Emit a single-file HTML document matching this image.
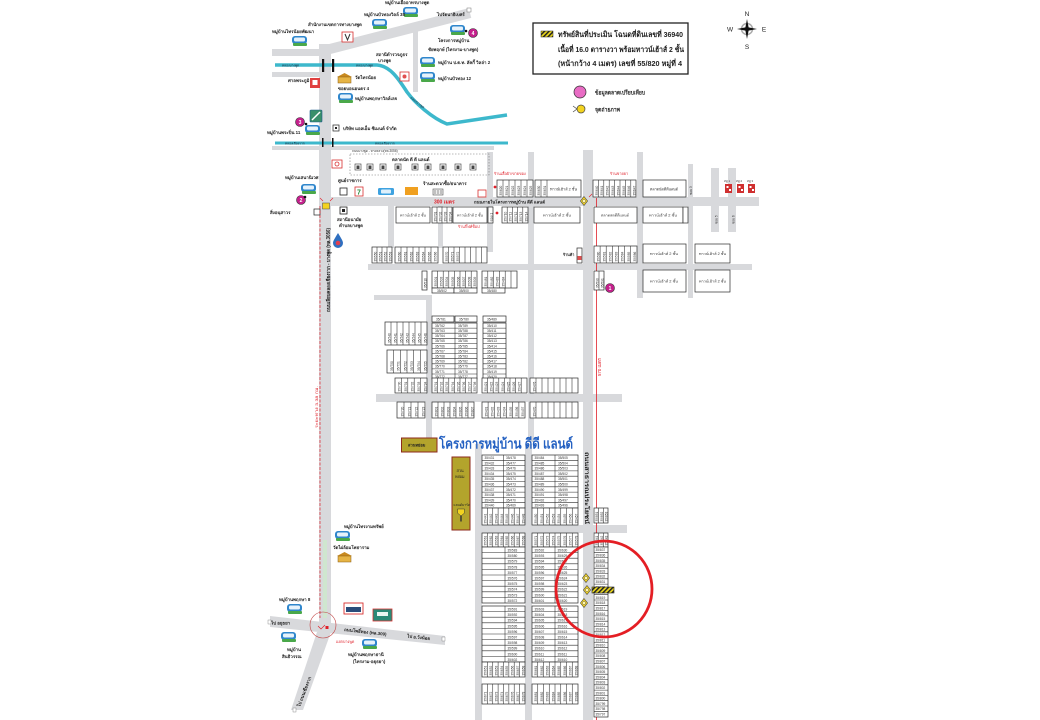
<!DOCTYPE html>
<html><head><meta charset="utf-8">
<style>
html,body{margin:0;padding:0;background:#fff;width:1040px;height:720px;overflow:hidden;}
svg{display:block;}
</style></head>
<body>
<svg width="1040" height="720" viewBox="0 0 1040 720" xmlns="http://www.w3.org/2000/svg">
<style>
text{font-family:"Liberation Sans","DejaVu Sans","Noto Sans CJK SC",sans-serif;}
.lb{font-size:4.4px;fill:#222;font-weight:bold}
.n{font-size:3.2px;fill:#333}
.red{fill:#e0202a}
.lot{fill:#fff;stroke:#2a2a2a;stroke-width:0.7}
.ln{stroke:#2a2a2a;stroke-width:0.55;fill:none}
.rd{fill:#d8d9dc}
</style>
<defs>
<pattern id="hatch" width="3.2" height="3.2" patternUnits="userSpaceOnUse" patternTransform="rotate(45)"><rect width="3.2" height="3.2" fill="#e9d61c"/><rect width="1.5" height="3.2" fill="#222"/></pattern>
<g id="hs"><rect x="0" y="0" width="15" height="8" rx="3" fill="#2f86cc"/><rect x="2" y="1.5" width="11" height="4" rx="1.5" fill="#e6f2fb"/><rect x="1" y="7" width="14" height="3" rx="1" fill="#4aa84a"/></g>
<g id="tp"><polygon points="0,4 7.5,0 15,4" fill="#c88a20"/><rect x="1" y="4" width="13" height="6" fill="#e6b445" stroke="#8a5a10" stroke-width="0.5"/></g>
<g id="mk"><rect x="0" y="0" width="6" height="6" fill="#fff" stroke="#333" stroke-width="0.6"/><rect x="1.5" y="1.5" width="3" height="3.5" fill="#444"/></g>
<g id="cam"><polygon points="0,-4.5 3.6,0 0,4.5 -3.6,0" fill="#f3d320" stroke="#444" stroke-width="0.6"/><circle r="1.6" fill="#fff7b0" stroke="#444" stroke-width="0.4"/></g>
</defs>

<!-- ROADS -->
<g class="rd">
<rect x="319" y="44" width="12" height="580"/>
<rect x="272" y="49" width="50" height="7"/>
<rect x="272" y="72" width="48" height="5"/>
<rect x="413" y="30" width="5" height="62"/>
<rect x="272" y="146" width="222" height="4"/>
<rect x="319" y="197" width="440" height="9"/>
<rect x="388" y="206" width="6" height="42"/>
<rect x="438" y="206" width="5" height="42"/>
<rect x="487" y="152" width="6" height="100"/>
<rect x="528" y="152" width="6" height="290"/>
<rect x="583" y="150" width="10" height="570"/>
<rect x="637" y="152" width="6" height="146"/>
<rect x="688" y="164" width="5" height="134"/>
<rect x="711" y="168" width="8" height="64"/>
<rect x="728" y="168" width="8" height="64"/>
<rect x="368" y="264" width="384" height="6"/>
<rect x="374" y="295" width="58" height="5"/>
<rect x="426" y="295" width="6" height="146"/>
<rect x="376" y="394" width="246" height="8"/>
<rect x="475" y="444" width="7" height="276"/>
<rect x="525" y="444" width="7" height="276"/>
<rect x="475" y="525" width="152" height="8"/>
<polygon points="270,616 445,636 445,645 270,627"/>
<polygon points="317,632 331,632 303,710 291,710"/>
</g>
<line x1="326" y1="50" x2="470" y2="13" stroke="#d8d9dc" stroke-width="10"/>
<line x1="325" y1="540" x2="325" y2="618" stroke="#cfe6cf" stroke-width="4"/>

<!-- CANALS -->
<path d="M275,65 L377,65 C390,66 398,78 407,92 C415,103 432,118 447,124 L507,115" stroke="#3db8cc" stroke-width="3.5" fill="none"/>
<line x1="275" y1="143" x2="508" y2="143" stroke="#3db8cc" stroke-width="3"/>
<rect x="322" y="59" width="2.2" height="13" fill="#111"/>
<rect x="332" y="59" width="2.2" height="13" fill="#111"/>
<rect x="322" y="138" width="1.5" height="9" fill="#111"/>
<rect x="332" y="138" width="1.5" height="9" fill="#111"/>
<text x="282" y="66.3" style="font-size:3.2px;fill:#123">คลองบางพูด</text>
<text x="356" y="66.3" style="font-size:3.2px;fill:#123">คลองบางพูด</text>
<text transform="translate(410,98) rotate(38)" style="font-size:3.2px;fill:#123">คลองบางพูด</text>
<text x="285" y="144.3" style="font-size:3.2px;fill:#123">คลองเชียงราก</text>
<text x="375" y="144.3" style="font-size:3.2px;fill:#123">คลองเชียงราก</text>
<text x="352" y="152" style="font-size:3.2px;fill:#333">ถนนบางพูด - ทางหลวง(ทล.3056)</text>

<!-- TOP-LEFT ICONS & LABELS -->
<use href="#hs" x="403" y="7"/>
<use href="#hs" x="372" y="19"/>
<use href="#hs" x="292" y="36"/>
<use href="#hs" x="450" y="25"/>
<use href="#hs" x="420" y="57"/>
<use href="#hs" x="420" y="72"/>
<use href="#hs" x="338" y="93"/>
<use href="#hs" x="305" y="125"/>
<use href="#hs" x="301" y="184"/>
<use href="#tp" x="337" y="73"/>
<rect x="342" y="32" width="11" height="10" fill="#fff" stroke="#d83030" stroke-width="0.8"/>
<path d="M345,34 l2.5,6 l2.5,-6" stroke="#333" stroke-width="1" fill="none"/>
<rect x="400" y="72" width="9" height="9" fill="#fff" stroke="#d83030" stroke-width="0.8"/>
<circle cx="404.5" cy="76.5" r="2" fill="#e05050"/>
<rect x="310" y="78" width="10" height="10" fill="#e04040"/>
<rect x="312.5" y="80" width="5" height="5" fill="#fff"/>
<rect x="310" y="110" width="12" height="12" rx="1" fill="#3a8f6a" stroke="#1d5b8a" stroke-width="0.6"/>
<path d="M312,120 L320,112" stroke="#fff" stroke-width="1.5"/>
<rect x="333" y="125" width="6" height="6" fill="#fff" stroke="#222" stroke-width="0.7"/>
<rect x="335" y="127" width="2" height="2" fill="#222"/>
<rect x="467" y="8" width="4" height="4" fill="#fff" stroke="#777" stroke-width="0.5"/>

<text class="lb" x="385" y="4">หมู่บ้านเอื้ออาทรบางพูด</text>
<text class="lb" x="364" y="16">หมู่บ้านบัวทองวิลล์ 38</text>
<text class="lb" x="308" y="26">สำนักงานเขตการทางบางพูด</text>
<text class="lb" x="272" y="33">หมู่บ้านไทรน้อยพัฒนา</text>
<text class="lb" x="437" y="16">ไปรัตนาธิเบศร์</text>
<text class="lb" x="438" y="42">โครงการหมู่บ้าน</text>
<text class="lb" x="428" y="51">ชัยพฤกษ์ (ไทรงาม-บางพูด)</text>
<text class="lb" x="376" y="56">สถานีตำรวจภูธร</text>
<text class="lb" x="378" y="62">บางพูด</text>
<text class="lb" x="438" y="64">หมู่บ้าน ป.ต.ท. ลัคกี้ วิลล่า 2</text>
<text class="lb" x="438" y="80">หมู่บ้านบัวทอง 12</text>
<text class="lb" x="288" y="82">ศาลพระภูมิ</text>
<text class="lb" x="355" y="79">วัดไทรน้อย</text>
<text class="lb" x="338" y="90">ซอยบอนอนดร 4</text>
<text class="lb" x="355" y="100">หมู่บ้านพฤกษาวิลล์เลจ</text>
<text class="lb" x="267" y="134">หมู่บ้านพระปิ่น 11</text>
<text class="lb" x="343" y="130">บริษัท แอลเอ็ม ซีเมนต์ จำกัด</text>

<!-- pink numbered circles -->
<g style="font-size:5px;font-weight:bold;fill:#fff" text-anchor="middle">
<circle cx="473" cy="33" r="4.5" fill="#c4208c" stroke="#333" stroke-width="0.6"/><text x="473" y="34.8">4</text>
<circle cx="300" cy="122" r="4.5" fill="#c4208c" stroke="#333" stroke-width="0.6"/><text x="300" y="123.8">3</text>
<circle cx="301" cy="200" r="4.5" fill="#c4208c" stroke="#333" stroke-width="0.6"/><text x="301" y="201.8">2</text>
<circle cx="610" cy="288" r="4.5" fill="#c4208c" stroke="#333" stroke-width="0.6"/><text x="610" y="289.8">1</text>
</g>
<circle cx="466" cy="31" r="1.3" fill="#111"/>
<circle cx="306" cy="124" r="1.3" fill="#111"/>
<circle cx="305" cy="197" r="1.3" fill="#111"/>
<circle cx="603" cy="288" r="1.3" fill="#111"/>

<!-- MARKET -->
<rect x="350" y="154" width="139" height="21" fill="none" stroke="#777" stroke-width="0.6" stroke-dasharray="1.5,1.5"/>
<text class="lb" x="392" y="161">ตลาดนัด ดี ดี แลนด์</text>
<use href="#mk" x="355" y="164"/><use href="#mk" x="367" y="164"/><use href="#mk" x="380" y="164"/>
<use href="#mk" x="395" y="164"/><use href="#mk" x="412" y="164"/><use href="#mk" x="425" y="164"/>
<use href="#mk" x="440" y="164"/><use href="#mk" x="455" y="164"/><use href="#mk" x="470" y="164"/>
<rect x="332" y="160" width="10" height="8" fill="#fff" stroke="#d83030" stroke-width="0.8"/>
<circle cx="337" cy="164" r="2" fill="none" stroke="#d83030" stroke-width="0.8"/>

<!-- shop icons row -->
<text class="lb" x="285" y="179">หมู่บ้านเสนานิเวศ</text>
<text class="lb" x="338" y="182">ศูนย์ราชการ</text>
<text class="lb" x="423" y="185">ร้านสะดวกซื้อ/ธนาคาร</text>
<rect x="340" y="188" width="7" height="7" fill="#fff" stroke="#222" stroke-width="0.8"/>
<rect x="355" y="187" width="8" height="9" fill="#fff" stroke="#d83030" stroke-width="0.8"/>
<text x="357" y="194.5" style="font-size:7px;font-weight:bold;fill:#2a8a3a">7</text>
<rect x="378" y="188" width="16" height="7" rx="1.5" fill="#3ea2e0"/>
<rect x="381" y="189.5" width="10" height="4" rx="1" fill="#dff0fb"/>
<rect x="405" y="187" width="13" height="8" fill="#f0a020"/>
<rect x="433" y="189" width="10" height="6" fill="#eee" stroke="#555" stroke-width="0.6"/>
<path d="M435,190 v4 M438,190 v4 M441,190 v4" stroke="#555" stroke-width="0.6"/>
<rect x="478" y="190" width="8" height="7" fill="#fff" stroke="#d83030" stroke-width="0.8"/>

<!-- main road labels -->
<text x="434" y="203.5" style="font-size:5px;font-weight:bold" class="red">300 เมตร</text>
<text x="474" y="203.3" style="font-size:4.3px;font-weight:bold;fill:#222">ถนนภายในโครงการหมู่บ้าน ดีดี แลนด์</text>
<text x="494" y="175" style="font-size:3.8px" class="red">ร้านเสื้อผ้า/ขายของ</text>
<circle cx="495" cy="187" r="1.4" fill="#e0202a"/>
<text x="610" y="175" style="font-size:3.8px" class="red">ร้านขายยา</text>
<circle cx="630" cy="182" r="1.4" fill="#e0202a"/>
<text x="458" y="228" style="font-size:3.8px" class="red">ร้านกิ๊ฟท์ช็อป</text>
<circle cx="497" cy="213" r="1.4" fill="#e0202a"/>

<!-- left of main road -->
<text class="lb" x="270" y="214">สิ่งอนุสาวร</text>
<rect x="314" y="209" width="6" height="6" fill="#fff" stroke="#222" stroke-width="0.7"/>
<rect x="340" y="207" width="7" height="7" fill="#fff" stroke="#222" stroke-width="0.8"/>
<rect x="342" y="209" width="3" height="3" fill="#222"/>
<text class="lb" x="337" y="221">สถานีอนามัย</text>
<text class="lb" x="339" y="227">ตำบลบางพูด</text>
<path d="M338,233 C335,238 333,241 333,243 a5,5 0 0,0 10,0 C343,241 341,238 338,233 Z" fill="#2f6fc0"/>
<circle cx="338" cy="243" r="2.3" fill="#e04050"/>
<rect x="322.5" y="203" width="7" height="6" fill="#f3d320" stroke="#444" stroke-width="0.5"/>
<path d="M320,198 l3,3 M333,198 l-3,3" stroke="#e0202a" stroke-width="0.6"/>
<use href="#cam" x="584" y="201"/>
<path d="M589,197 l3,-3" stroke="#e0202a" stroke-width="0.6"/>

<!-- red measure lines -->
<line x1="320" y1="206" x2="320" y2="618" stroke="#e0202a" stroke-width="0.7" stroke-dasharray="3,1.5"/>
<line x1="596.5" y1="198" x2="596.5" y2="720" stroke="#e0202a" stroke-width="0.8"/>
<text transform="translate(318,428) rotate(-90)" style="font-size:4px" class="red" textLength="42" lengthAdjust="spacingAndGlyphs">ระยะทาง 3.38 กม.</text>
<text transform="translate(601,376) rotate(-90)" style="font-size:4.5px" class="red" textLength="18" lengthAdjust="spacingAndGlyphs">570 เมตร</text>
<text transform="translate(330,312) rotate(-90)" style="font-size:5px;font-weight:bold;fill:#222" textLength="84" lengthAdjust="spacingAndGlyphs">ถนนเลียบคลองเชียงราก - บางพูด (ทล.3056)</text>
<text transform="translate(585,452) rotate(90)" style="font-size:5.5px;font-weight:bold;fill:#222" textLength="72" lengthAdjust="spacingAndGlyphs">ถนนสาธารณประโยชน์</text>

<!-- LOTS above main road -->
<rect class="lot" x="497" y="180" width="36" height="17"/>
<path class="ln" d="M503,180v17m6-17v17m6-17v17m6-17v17m6-17v17"/>
<text class="n" transform="translate(502,195.5) rotate(-90)"><tspan x="0" y="0">35/620</tspan><tspan x="0" y="6">35/621</tspan><tspan x="0" y="12">35/622</tspan><tspan x="0" y="18">35/623</tspan><tspan x="0" y="24">35/624</tspan><tspan x="0" y="30">35/625</tspan></text>
<rect class="lot" x="535" y="180" width="46" height="17"/>
<path class="ln" d="M541,180v17m6-17v17"/>
<text class="n" transform="translate(540,195.5) rotate(-90)"><tspan x="0" y="0">35/630</tspan><tspan x="0" y="6">35/631</tspan></text>
<text x="550" y="190.5" style="font-size:3.8px;fill:#333" textLength="27" lengthAdjust="spacingAndGlyphs">ทาวน์เฮ้าส์ 2 ชั้น</text>
<rect class="lot" x="593" y="180" width="43" height="17"/>
<path class="ln" d="M598.4,180v17m5.4-17v17m5.4-17v17m5.4-17v17m5.4-17v17m5.4-17v17m5.4-17v17"/>
<text class="n" transform="translate(597.8,195.5) rotate(-90)"><tspan x="0" y="0">35/640</tspan><tspan x="0" y="5.4">35/641</tspan><tspan x="0" y="10.8">35/642</tspan><tspan x="0" y="16.2">35/643</tspan><tspan x="0" y="21.6">35/644</tspan><tspan x="0" y="27">35/645</tspan><tspan x="0" y="32.4">35/646</tspan><tspan x="0" y="37.8">35/647</tspan></text>
<rect class="lot" x="643" y="180" width="43" height="17"/>
<text x="650" y="190.5" style="font-size:3.8px;fill:#333" textLength="28" lengthAdjust="spacingAndGlyphs">ตลาดนัดดีดีแลนด์</text>
<text class="n" transform="translate(692,195) rotate(-90)">ซอย 3</text>
<!-- small red houses -->
<g fill="#d03030"><rect x="725" y="184" width="7" height="9"/><rect x="737" y="184" width="7" height="9"/><rect x="748" y="184" width="7" height="9"/></g>
<g fill="#fff"><rect x="726.5" y="186" width="2" height="2"/><rect x="738.5" y="186" width="2" height="2"/><rect x="749.5" y="186" width="2" height="2"/><rect x="729" y="189" width="2" height="2"/><rect x="741" y="189" width="2" height="2"/><rect x="752" y="189" width="2" height="2"/></g>
<text x="724" y="182" style="font-size:2.8px;fill:#333">หมู่ 1</text><text x="736" y="182" style="font-size:2.8px;fill:#333">หมู่ 2</text><text x="747" y="182" style="font-size:2.8px;fill:#333">หมู่ 3</text>

<!-- LOTS below main road -->
<rect class="lot" x="396" y="207" width="34" height="16"/>
<text x="400" y="216.5" style="font-size:3.6px;fill:#333" textLength="26" lengthAdjust="spacingAndGlyphs">ทาวน์เฮ้าส์ 2 ชั้น</text>
<rect class="lot" x="432" y="207" width="20" height="16"/>
<path class="ln" d="M437,207v16m5-16v16m5-16v16"/>
<text class="n" transform="translate(436.3,221.5) rotate(-90)"><tspan x="0" y="0">35/701</tspan><tspan x="0" y="5">35/702</tspan><tspan x="0" y="10">35/703</tspan><tspan x="0" y="15">35/704</tspan></text>
<rect class="lot" x="453" y="207" width="34" height="16"/>
<text x="457" y="216.5" style="font-size:3.6px;fill:#333" textLength="26" lengthAdjust="spacingAndGlyphs">ทาวน์เฮ้าส์ 2 ชั้น</text>
<rect class="lot" x="488" y="207" width="5" height="16"/>
<text class="n" transform="translate(492.3,221.5) rotate(-90)">ซอย 1</text>
<rect class="lot" x="502" y="207" width="26" height="16"/>
<path class="ln" d="M507.2,207v16m5.2-16v16m5.2-16v16m5.2-16v16"/>
<text class="n" transform="translate(506.5,221.5) rotate(-90)"><tspan x="0" y="0">35/710</tspan><tspan x="0" y="5.2">35/711</tspan><tspan x="0" y="10.4">35/712</tspan><tspan x="0" y="15.6">35/713</tspan><tspan x="0" y="20.8">35/714</tspan></text>
<rect class="lot" x="534" y="207" width="46" height="16"/>
<text x="543" y="216.5" style="font-size:3.6px;fill:#333" textLength="28" lengthAdjust="spacingAndGlyphs">ทาวน์เฮ้าส์ 2 ชั้น</text>
<rect class="lot" x="594" y="207" width="43" height="16"/>
<text x="601" y="216.5" style="font-size:3.6px;fill:#333" textLength="28" lengthAdjust="spacingAndGlyphs">ตลาดสดดีดีแลนด์</text>
<rect class="lot" x="643" y="207" width="40" height="16"/>
<text x="649" y="216.5" style="font-size:3.6px;fill:#333" textLength="28" lengthAdjust="spacingAndGlyphs">ทาวน์เฮ้าส์ 2 ชั้น</text>
<rect class="lot" x="683" y="207" width="5" height="16"/>
<text class="n" transform="translate(717.5,224) rotate(-90)">ซอย 5</text>
<text class="n" transform="translate(734.5,224) rotate(-90)">ซอย 6</text>

<!-- ROW 2 -->
<rect class="lot" x="372" y="247" width="20" height="16"/>
<path class="ln" d="M377,247v16m5-16v16m5-16v16"/>
<text class="n" transform="translate(376.3,261.5) rotate(-90)"><tspan x="0" y="0">35/550</tspan><tspan x="0" y="5">35/551</tspan><tspan x="0" y="10">35/552</tspan><tspan x="0" y="15">35/553</tspan></text>
<rect class="lot" x="395" y="247" width="43" height="16"/>
<path class="ln" d="M401,247v16m6-16v16m6-16v16m6-16v16m6-16v16m6-16v16"/>
<text class="n" transform="translate(400.3,261.5) rotate(-90)"><tspan x="0" y="0">35/560</tspan><tspan x="0" y="6">35/561</tspan><tspan x="0" y="12">35/562</tspan><tspan x="0" y="18">35/563</tspan><tspan x="0" y="24">35/564</tspan><tspan x="0" y="30">35/565</tspan><tspan x="0" y="36">35/566</tspan></text>
<rect class="lot" x="443" y="247" width="44" height="16"/>
<path class="ln" d="M448.5,247v16m5.5-16v16m5.5-16v16m5.5-16v16m5.5-16v16m5.5-16v16m5.5-16v16"/>
<text class="n" transform="translate(447.8,261.5) rotate(-90)"><tspan x="0" y="0">35/570</tspan><tspan x="0" y="5.5">35/571</tspan><tspan x="0" y="11">35/572</tspan></text>
<text x="563" y="256" style="font-size:3.8px;fill:#222;font-weight:bold">ร้านค้า</text>
<rect class="lot" x="577" y="248" width="5" height="15"/>
<rect x="577.5" y="256" width="4" height="4" fill="#e05050"/>
<rect class="lot" x="594" y="246" width="43" height="17"/>
<path class="ln" d="M600.1,246v17m6.1-17v17m6.1-17v17m6.1-17v17m6.1-17v17m6.1-17v17"/>
<text class="n" transform="translate(599.3,261.5) rotate(-90)"><tspan x="0" y="0">35/580</tspan><tspan x="0" y="6.1">35/581</tspan><tspan x="0" y="12.2">35/582</tspan><tspan x="0" y="18.3">35/583</tspan><tspan x="0" y="24.4">35/584</tspan><tspan x="0" y="30.5">35/585</tspan><tspan x="0" y="36.6">35/586</tspan></text>
<rect class="lot" x="643" y="244" width="43" height="19"/>
<text x="650" y="255" style="font-size:3.6px;fill:#333" textLength="28" lengthAdjust="spacingAndGlyphs">ทาวน์เฮ้าส์ 2 ชั้น</text>
<rect class="lot" x="695" y="244" width="35" height="19"/>
<text x="699" y="255" style="font-size:3.6px;fill:#333" textLength="27" lengthAdjust="spacingAndGlyphs">ทาวน์เฮ้าส์ 2 ชั้น</text>

<!-- ROW 3 -->
<rect class="lot" x="422" y="271" width="5" height="19"/>
<text class="n" transform="translate(426.3,288) rotate(-90)">35/510</text>
<rect class="lot" x="432" y="271" width="45" height="17"/>
<path class="ln" d="M437.6,271v17m5.6-17v17m5.6-17v17m5.6-17v17m5.6-17v17m5.6-17v17m5.6-17v17"/>
<text class="n" transform="translate(437,286.5) rotate(-90)"><tspan x="0" y="0">35/501</tspan><tspan x="0" y="5.6">35/503</tspan><tspan x="0" y="11.2">35/504</tspan><tspan x="0" y="16.8">35/505</tspan><tspan x="0" y="22.4">35/506</tspan><tspan x="0" y="28">35/507</tspan><tspan x="0" y="33.6">35/508</tspan><tspan x="0" y="39.2">35/509</tspan></text>
<rect class="lot" x="432" y="288" width="22" height="5"/><rect class="lot" x="454" y="288" width="23" height="5"/>
<text class="n" x="437" y="291.8">35/502</text><text class="n" x="459" y="291.8">35/500</text>
<rect class="lot" x="482" y="271" width="35" height="17"/>
<path class="ln" d="M487.8,271v17m5.8-17v17m5.8-17v17m5.8-17v17m5.8-17v17"/>
<text class="n" transform="translate(487.1,286.5) rotate(-90)"><tspan x="0" y="0">35/481</tspan><tspan x="0" y="5.8">35/482</tspan><tspan x="0" y="11.6">35/483</tspan><tspan x="0" y="17.4">35/484</tspan></text>
<rect class="lot" x="482" y="288" width="23" height="5"/>
<text class="n" x="487" y="291.8">35/480</text>
<rect class="lot" x="594" y="271" width="10" height="19"/>
<path class="ln" d="M599,271v19"/>
<text class="n" transform="translate(598.4,288) rotate(-90)"><tspan x="0" y="0">35/590</tspan><tspan x="0" y="5">35/591</tspan></text>
<rect class="lot" x="643" y="270" width="43" height="22"/>
<text x="650" y="282.5" style="font-size:3.6px;fill:#333" textLength="28" lengthAdjust="spacingAndGlyphs">ทาวน์เฮ้าส์ 2 ชั้น</text>
<rect class="lot" x="695" y="270" width="35" height="22"/>
<text x="699" y="282.5" style="font-size:3.6px;fill:#333" textLength="27" lengthAdjust="spacingAndGlyphs">ทาวน์เฮ้าส์ 2 ชั้น</text>

<!-- MIDDLE TABLES -->
<rect class="lot" x="432" y="316" width="22" height="6"/><rect class="lot" x="455" y="316" width="22" height="6"/><rect class="lot" x="483" y="316" width="23" height="6"/>
<text class="n" x="436" y="320.3">35/781</text><text class="n" x="459" y="320.3">35/780</text><text class="n" x="487" y="320.3">35/489</text>
<rect class="lot" x="432" y="323" width="45" height="56"/>
<path class="ln" d="M455,323v56M432,328.1h45m-45,5.1h45m-45,5.1h45m-45,5.1h45m-45,5.1h45m-45,5.1h45m-45,5.1h45m-45,5.1h45m-45,5.1h45m-45,5.1h45"/>
<text class="n"><tspan x="435" y="326.9">35/762</tspan><tspan x="435" y="332">35/763</tspan><tspan x="435" y="337.1">35/764</tspan><tspan x="435" y="342.2">35/765</tspan><tspan x="435" y="347.3">35/766</tspan><tspan x="435" y="352.4">35/767</tspan><tspan x="435" y="357.5">35/768</tspan><tspan x="435" y="362.6">35/769</tspan><tspan x="435" y="367.7">35/770</tspan><tspan x="435" y="372.8">35/771</tspan><tspan x="435" y="377.9">35/772</tspan></text>
<text class="n"><tspan x="458" y="326.9">35/789</tspan><tspan x="458" y="332">35/788</tspan><tspan x="458" y="337.1">35/787</tspan><tspan x="458" y="342.2">35/786</tspan><tspan x="458" y="347.3">35/785</tspan><tspan x="458" y="352.4">35/784</tspan><tspan x="458" y="357.5">35/783</tspan><tspan x="458" y="362.6">35/782</tspan><tspan x="458" y="367.7">35/779</tspan><tspan x="458" y="372.8">35/778</tspan><tspan x="458" y="377.9">35/777</tspan></text>
<rect class="lot" x="483" y="323" width="23" height="56"/>
<path class="ln" d="M483,328.1h23m-23,5.1h23m-23,5.1h23m-23,5.1h23m-23,5.1h23m-23,5.1h23m-23,5.1h23m-23,5.1h23m-23,5.1h23m-23,5.1h23"/>
<text class="n"><tspan x="487" y="326.9">35/410</tspan><tspan x="487" y="332">35/411</tspan><tspan x="487" y="337.1">35/412</tspan><tspan x="487" y="342.2">35/413</tspan><tspan x="487" y="347.3">35/414</tspan><tspan x="487" y="352.4">35/415</tspan><tspan x="487" y="357.5">35/416</tspan><tspan x="487" y="362.6">35/417</tspan><tspan x="487" y="367.7">35/418</tspan><tspan x="487" y="372.8">35/419</tspan><tspan x="487" y="377.9">35/420</tspan></text>

<rect class="lot" x="385" y="322" width="42" height="23"/>
<path class="ln" d="M391,322v23m6-23v23m6-23v23m6-23v23m6-23v23m6-23v23"/>
<text class="n" transform="translate(390.3,343) rotate(-90)"><tspan x="0" y="0">35/740</tspan><tspan x="0" y="6">35/741</tspan><tspan x="0" y="12">35/742</tspan><tspan x="0" y="18">35/743</tspan><tspan x="0" y="24">35/744</tspan><tspan x="0" y="30">35/745</tspan><tspan x="0" y="36">35/746</tspan></text>
<rect class="lot" x="387" y="350" width="40" height="23"/>
<path class="ln" d="M393.7,350v23m6.6-23v23m6.7-23v23m6.7-23v23m6.6-23v23"/>
<text class="n" transform="translate(393,371) rotate(-90)"><tspan x="0" y="0">35/750</tspan><tspan x="0" y="6.7">35/751</tspan><tspan x="0" y="13.4">35/752</tspan><tspan x="0" y="20.1">35/753</tspan><tspan x="0" y="26.8">35/754</tspan><tspan x="0" y="33.5">35/755</tspan></text>

<!-- ROW E -->
<rect class="lot" x="395" y="378" width="32" height="15"/>
<path class="ln" d="M401.4,378v15m6.4-15v15m6.4-15v15m6.4-15v15"/>
<text class="n" transform="translate(400.7,391.5) rotate(-90)"><tspan x="0" y="0">35/730</tspan><tspan x="0" y="6.4">35/731</tspan><tspan x="0" y="12.8">35/732</tspan><tspan x="0" y="19.2">35/733</tspan><tspan x="0" y="25.6">35/734</tspan></text>
<rect class="lot" x="432" y="378" width="45" height="15"/>
<path class="ln" d="M437.6,378v15m5.6-15v15m5.6-15v15m5.6-15v15m5.6-15v15m5.6-15v15m5.6-15v15"/>
<text class="n" transform="translate(437,391.5) rotate(-90)"><tspan x="0" y="0">35/791</tspan><tspan x="0" y="5.6">35/792</tspan><tspan x="0" y="11.2">35/793</tspan><tspan x="0" y="16.8">35/794</tspan><tspan x="0" y="22.4">35/795</tspan><tspan x="0" y="28">35/796</tspan><tspan x="0" y="33.6">35/797</tspan><tspan x="0" y="39.2">35/798</tspan></text>
<rect class="lot" x="482" y="378" width="45" height="15"/>
<path class="ln" d="M487.6,378v15m5.6-15v15m5.6-15v15m5.6-15v15m5.6-15v15m5.6-15v15m5.6-15v15"/>
<text class="n" transform="translate(487,391.5) rotate(-90)"><tspan x="0" y="0">35/421</tspan><tspan x="0" y="5.6">35/422</tspan><tspan x="0" y="11.2">35/423</tspan><tspan x="0" y="16.8">35/424</tspan><tspan x="0" y="22.4">35/425</tspan><tspan x="0" y="28">35/426</tspan><tspan x="0" y="33.6">35/427</tspan></text>
<rect class="lot" x="530" y="378" width="48" height="15"/>
<path class="ln" d="M536,378v15m6-15v15m6-15v15m6-15v15m6-15v15m6-15v15m6-15v15"/>
<text class="n" transform="translate(535.3,391.5) rotate(-90)">35/476</text>
<!-- ROW F -->
<rect class="lot" x="397" y="402" width="28" height="16"/>
<path class="ln" d="M404,402v16m7-16v16m7-16v16"/>
<text class="n" transform="translate(403.3,416.5) rotate(-90)"><tspan x="0" y="0">35/720</tspan><tspan x="0" y="7">35/721</tspan><tspan x="0" y="14">35/722</tspan><tspan x="0" y="21">35/723</tspan></text>
<rect class="lot" x="432" y="402" width="42" height="16"/>
<path class="ln" d="M438,402v16m6-16v16m6-16v16m6-16v16m6-16v16m6-16v16"/>
<text class="n" transform="translate(437.3,416.5) rotate(-90)"><tspan x="0" y="0">35/801</tspan><tspan x="0" y="6">35/802</tspan><tspan x="0" y="12">35/803</tspan><tspan x="0" y="18">35/804</tspan><tspan x="0" y="24">35/805</tspan><tspan x="0" y="30">35/806</tspan><tspan x="0" y="36">35/807</tspan></text>
<rect class="lot" x="482" y="402" width="43" height="16"/>
<path class="ln" d="M488.1,402v16m6.2-16v16m6.1-16v16m6.2-16v16m6.1-16v16m6.2-16v16"/>
<text class="n" transform="translate(487.4,416.5) rotate(-90)"><tspan x="0" y="0">35/431</tspan><tspan x="0" y="6.1">35/432</tspan><tspan x="0" y="12.2">35/433</tspan><tspan x="0" y="18.3">35/434</tspan><tspan x="0" y="24.4">35/435</tspan><tspan x="0" y="30.5">35/436</tspan><tspan x="0" y="36.6">35/437</tspan></text>
<rect class="lot" x="530" y="402" width="48" height="16"/>
<path class="ln" d="M536,402v16m6-16v16m6-16v16m6-16v16m6-16v16m6-16v16m6-16v16"/>
<text class="n" transform="translate(535.3,416.5) rotate(-90)">35/470</text>

<!-- OLIVE BOXES & TITLE -->
<rect x="401.5" y="438" width="35.5" height="14" fill="#b3a42c" stroke="#8c2a1c" stroke-width="1"/>
<text x="408" y="446.5" style="font-size:4px;fill:#222;font-weight:bold">สวนหย่อม</text>
<rect x="452" y="457" width="18" height="73" fill="#b3a42c" stroke="#8c2a1c" stroke-width="1"/>
<text x="456.5" y="472" style="font-size:3.8px;fill:#222">สวน</text>
<text x="455" y="478" style="font-size:3.8px;fill:#222">หย่อม</text>
<text x="453.5" y="506" style="font-size:3.3px;fill:#222">แลนด์มาร์ค</text>
<polygon points="457.5,509 464.5,509 464.5,513 461,516 457.5,513" fill="#f3d320" stroke="#333" stroke-width="0.5"/>
<rect x="460.3" y="515.5" width="1.4" height="6" fill="#333"/>
<text x="439" y="448.5" style="font-size:14px;font-weight:bold;fill:#2461c2" textLength="134" lengthAdjust="spacingAndGlyphs">โครงการหมู่บ้าน ดีดี แลนด์</text>

<!-- LOWER BLOCK -->
<rect class="lot" x="482" y="455" width="43" height="53"/>
<path class="ln" d="M503.5,455v53M482,460.3h43m-43,5.3h43m-43,5.3h43m-43,5.3h43m-43,5.3h43m-43,5.3h43m-43,5.3h43m-43,5.3h43m-43,5.3h43"/>
<text class="n"><tspan x="484.5" y="459">35/431</tspan><tspan x="484.5" y="464.3">35/432</tspan><tspan x="484.5" y="469.6">35/433</tspan><tspan x="484.5" y="474.9">35/434</tspan><tspan x="484.5" y="480.2">35/435</tspan><tspan x="484.5" y="485.5">35/436</tspan><tspan x="484.5" y="490.8">35/437</tspan><tspan x="484.5" y="496.1">35/438</tspan><tspan x="484.5" y="501.4">35/439</tspan><tspan x="484.5" y="506.7">35/440</tspan></text>
<text class="n"><tspan x="506" y="459">35/478</tspan><tspan x="506" y="464.3">35/477</tspan><tspan x="506" y="469.6">35/476</tspan><tspan x="506" y="474.9">35/475</tspan><tspan x="506" y="480.2">35/474</tspan><tspan x="506" y="485.5">35/473</tspan><tspan x="506" y="490.8">35/472</tspan><tspan x="506" y="496.1">35/471</tspan><tspan x="506" y="501.4">35/470</tspan><tspan x="506" y="506.7">35/469</tspan></text>
<rect class="lot" x="532" y="455" width="46" height="53"/>
<path class="ln" d="M555,455v53M532,460.3h46m-46,5.3h46m-46,5.3h46m-46,5.3h46m-46,5.3h46m-46,5.3h46m-46,5.3h46m-46,5.3h46m-46,5.3h46"/>
<text class="n"><tspan x="534.5" y="459">35/484</tspan><tspan x="534.5" y="464.3">35/485</tspan><tspan x="534.5" y="469.6">35/486</tspan><tspan x="534.5" y="474.9">35/487</tspan><tspan x="534.5" y="480.2">35/488</tspan><tspan x="534.5" y="485.5">35/489</tspan><tspan x="534.5" y="490.8">35/490</tspan><tspan x="534.5" y="496.1">35/491</tspan><tspan x="534.5" y="501.4">35/492</tspan><tspan x="534.5" y="506.7">35/493</tspan></text>
<text class="n"><tspan x="558" y="459">35/505</tspan><tspan x="558" y="464.3">35/504</tspan><tspan x="558" y="469.6">35/503</tspan><tspan x="558" y="474.9">35/502</tspan><tspan x="558" y="480.2">35/501</tspan><tspan x="558" y="485.5">35/500</tspan><tspan x="558" y="490.8">35/499</tspan><tspan x="558" y="496.1">35/498</tspan><tspan x="558" y="501.4">35/497</tspan><tspan x="558" y="506.7">35/496</tspan></text>

<rect class="lot" x="482" y="508" width="43" height="17"/>
<path class="ln" d="M487.4,508v17m5.35-17v17m5.35-17v17m5.4-17v17m5.35-17v17m5.35-17v17m5.4-17v17"/>
<text class="n" transform="translate(486.7,523.5) rotate(-90)"><tspan x="0" y="0">35/441</tspan><tspan x="0" y="5.37">35/442</tspan><tspan x="0" y="10.74">35/443</tspan><tspan x="0" y="16.1">35/444</tspan><tspan x="0" y="21.5">35/445</tspan><tspan x="0" y="26.8">35/446</tspan><tspan x="0" y="32.2">35/447</tspan><tspan x="0" y="37.6">35/448</tspan></text>
<rect class="lot" x="532" y="508" width="46" height="17"/>
<path class="ln" d="M537.75,508v17m5.75-17v17m5.75-17v17m5.75-17v17m5.75-17v17m5.75-17v17m5.75-17v17"/>
<text class="n" transform="translate(537,523.5) rotate(-90)"><tspan x="0" y="0">35/450</tspan><tspan x="0" y="5.75">35/451</tspan><tspan x="0" y="11.5">35/452</tspan><tspan x="0" y="17.25">35/453</tspan><tspan x="0" y="23">35/454</tspan><tspan x="0" y="28.75">35/455</tspan><tspan x="0" y="34.5">35/456</tspan><tspan x="0" y="40.25">35/457</tspan></text>
<rect class="lot" x="482" y="533" width="43" height="14"/>
<path class="ln" d="M487.4,533v14m5.35-14v14m5.35-14v14m5.4-14v14m5.35-14v14m5.35-14v14m5.4-14v14"/>
<text class="n" transform="translate(486.7,545.5) rotate(-90)"><tspan x="0" y="0">35/561</tspan><tspan x="0" y="5.37">35/562</tspan><tspan x="0" y="10.74">35/563</tspan><tspan x="0" y="16.1">35/564</tspan><tspan x="0" y="21.5">35/565</tspan><tspan x="0" y="26.8">35/566</tspan><tspan x="0" y="32.2">35/567</tspan><tspan x="0" y="37.6">35/568</tspan></text>
<rect class="lot" x="532" y="533" width="46" height="14"/>
<path class="ln" d="M537.75,533v14m5.75-14v14m5.75-14v14m5.75-14v14m5.75-14v14m5.75-14v14m5.75-14v14"/>
<text class="n" transform="translate(537,545.5) rotate(-90)"><tspan x="0" y="0">35/571</tspan><tspan x="0" y="5.75">35/572</tspan><tspan x="0" y="11.5">35/573</tspan><tspan x="0" y="17.25">35/574</tspan><tspan x="0" y="23">35/575</tspan><tspan x="0" y="28.75">35/576</tspan><tspan x="0" y="34.5">35/577</tspan><tspan x="0" y="40.25">35/578</tspan></text>

<rect class="lot" x="482" y="547" width="43" height="56"/>
<path class="ln" d="M505,547v56M482,552.6h43m-43,5.6h43m-43,5.6h43m-43,5.6h43m-43,5.6h43m-43,5.6h43m-43,5.6h43m-43,5.6h43m-43,5.6h43"/>
<text class="n"><tspan x="507.5" y="551.5">35/583</tspan><tspan x="507.5" y="557.1">35/580</tspan><tspan x="507.5" y="562.7">35/579</tspan><tspan x="507.5" y="568.3">35/578</tspan><tspan x="507.5" y="573.9">35/577</tspan><tspan x="507.5" y="579.5">35/576</tspan><tspan x="507.5" y="585.1">35/575</tspan><tspan x="507.5" y="590.7">35/574</tspan><tspan x="507.5" y="596.3">35/573</tspan><tspan x="507.5" y="601.9">35/572</tspan></text>
<rect class="lot" x="532" y="547" width="46" height="56"/>
<path class="ln" d="M555,547v56M532,552.6h46m-46,5.6h46m-46,5.6h46m-46,5.6h46m-46,5.6h46m-46,5.6h46m-46,5.6h46m-46,5.6h46m-46,5.6h46"/>
<text class="n"><tspan x="534.5" y="551.5">35/592</tspan><tspan x="534.5" y="557.1">35/593</tspan><tspan x="534.5" y="562.7">35/594</tspan><tspan x="534.5" y="568.3">35/595</tspan><tspan x="534.5" y="573.9">35/596</tspan><tspan x="534.5" y="579.5">35/597</tspan><tspan x="534.5" y="585.1">35/598</tspan><tspan x="534.5" y="590.7">35/599</tspan><tspan x="534.5" y="596.3">35/600</tspan><tspan x="534.5" y="601.9">35/601</tspan></text>
<text class="n"><tspan x="557.5" y="551.5">35/630</tspan><tspan x="557.5" y="557.1">35/629</tspan><tspan x="557.5" y="562.7">35/627</tspan><tspan x="557.5" y="568.3">35/626</tspan><tspan x="557.5" y="573.9">35/625</tspan><tspan x="557.5" y="579.5">35/624</tspan><tspan x="557.5" y="585.1">35/623</tspan><tspan x="557.5" y="590.7">35/622</tspan><tspan x="557.5" y="596.3">35/621</tspan><tspan x="557.5" y="601.9">35/620</tspan></text>

<rect class="lot" x="482" y="606" width="43" height="56"/>
<path class="ln" d="M505,606v56M482,611.6h43m-43,5.6h43m-43,5.6h43m-43,5.6h43m-43,5.6h43m-43,5.6h43m-43,5.6h43m-43,5.6h43m-43,5.6h43"/>
<text class="n"><tspan x="507.5" y="610.5">35/591</tspan><tspan x="507.5" y="616.1">35/592</tspan><tspan x="507.5" y="621.7">35/594</tspan><tspan x="507.5" y="627.3">35/595</tspan><tspan x="507.5" y="632.9">35/596</tspan><tspan x="507.5" y="638.5">35/597</tspan><tspan x="507.5" y="644.1">35/598</tspan><tspan x="507.5" y="649.7">35/599</tspan><tspan x="507.5" y="655.3">35/600</tspan><tspan x="507.5" y="660.9">35/602</tspan></text>
<rect class="lot" x="532" y="606" width="46" height="56"/>
<path class="ln" d="M555,606v56M532,611.6h46m-46,5.6h46m-46,5.6h46m-46,5.6h46m-46,5.6h46m-46,5.6h46m-46,5.6h46m-46,5.6h46m-46,5.6h46"/>
<text class="n"><tspan x="534.5" y="610.5">35/603</tspan><tspan x="534.5" y="616.1">35/604</tspan><tspan x="534.5" y="621.7">35/605</tspan><tspan x="534.5" y="627.3">35/606</tspan><tspan x="534.5" y="632.9">35/607</tspan><tspan x="534.5" y="638.5">35/608</tspan><tspan x="534.5" y="644.1">35/609</tspan><tspan x="534.5" y="649.7">35/610</tspan><tspan x="534.5" y="655.3">35/611</tspan><tspan x="534.5" y="660.9">35/612</tspan></text>
<text class="n"><tspan x="557.5" y="610.5">35/619</tspan><tspan x="557.5" y="616.1">35/618</tspan><tspan x="557.5" y="621.7">35/617</tspan><tspan x="557.5" y="627.3">35/616</tspan><tspan x="557.5" y="632.9">35/615</tspan><tspan x="557.5" y="638.5">35/614</tspan><tspan x="557.5" y="644.1">35/613</tspan><tspan x="557.5" y="649.7">35/612</tspan><tspan x="557.5" y="655.3">35/611</tspan><tspan x="557.5" y="660.9">35/610</tspan></text>

<rect class="lot" x="482" y="662" width="43" height="15"/>
<path class="ln" d="M487.4,662v15m5.35-15v15m5.35-15v15m5.4-15v15m5.35-15v15m5.35-15v15m5.4-15v15"/>
<text class="n" transform="translate(486.7,675.5) rotate(-90)"><tspan x="0" y="0">35/651</tspan><tspan x="0" y="5.37">35/652</tspan><tspan x="0" y="10.74">35/653</tspan><tspan x="0" y="16.1">35/654</tspan><tspan x="0" y="21.5">35/655</tspan><tspan x="0" y="26.8">35/656</tspan><tspan x="0" y="32.2">35/657</tspan><tspan x="0" y="37.6">35/658</tspan></text>
<rect class="lot" x="532" y="662" width="46" height="15"/>
<path class="ln" d="M537.75,662v15m5.75-15v15m5.75-15v15m5.75-15v15m5.75-15v15m5.75-15v15m5.75-15v15"/>
<text class="n" transform="translate(537,675.5) rotate(-90)"><tspan x="0" y="0">35/661</tspan><tspan x="0" y="5.75">35/662</tspan><tspan x="0" y="11.5">35/663</tspan><tspan x="0" y="17.25">35/664</tspan><tspan x="0" y="23">35/665</tspan><tspan x="0" y="28.75">35/666</tspan><tspan x="0" y="34.5">35/667</tspan><tspan x="0" y="40.25">35/668</tspan></text>
<rect class="lot" x="482" y="684" width="43" height="20"/>
<path class="ln" d="M487.4,684v20m5.35-20v20m5.35-20v20m5.4-20v20m5.35-20v20m5.35-20v20m5.4-20v20"/>
<text class="n" transform="translate(486.7,701.5) rotate(-90)"><tspan x="0" y="0">35/671</tspan><tspan x="0" y="5.37">35/672</tspan><tspan x="0" y="10.74">35/673</tspan><tspan x="0" y="16.1">35/674</tspan><tspan x="0" y="21.5">35/675</tspan><tspan x="0" y="26.8">35/676</tspan><tspan x="0" y="32.2">35/677</tspan><tspan x="0" y="37.6">35/678</tspan></text>
<rect class="lot" x="532" y="684" width="46" height="20"/>
<path class="ln" d="M537.75,684v20m5.75-20v20m5.75-20v20m5.75-20v20m5.75-20v20m5.75-20v20m5.75-20v20"/>
<text class="n" transform="translate(537,701.5) rotate(-90)"><tspan x="0" y="0">35/681</tspan><tspan x="0" y="5.75">35/682</tspan><tspan x="0" y="11.5">35/683</tspan><tspan x="0" y="17.25">35/684</tspan><tspan x="0" y="23">35/685</tspan><tspan x="0" y="28.75">35/686</tspan><tspan x="0" y="34.5">35/687</tspan><tspan x="0" y="40.25">35/688</tspan></text>

<!-- right column -->
<rect class="lot" x="594" y="508" width="14" height="15"/>
<path class="ln" d="M598.7,508v15m4.6-15v15"/>
<text class="n" transform="translate(598.2,521.5) rotate(-90)"><tspan x="0" y="0">35/851</tspan><tspan x="0" y="4.6">35/852</tspan><tspan x="0" y="9.2">35/853</tspan></text>
<rect class="lot" x="594" y="533" width="14" height="14"/>
<path class="ln" d="M598.7,533v14m4.6-14v14"/>
<text class="n" transform="translate(598.2,545.5) rotate(-90)"><tspan x="0" y="0">35/841</tspan><tspan x="0" y="4.6">35/842</tspan><tspan x="0" y="9.2">35/843</tspan></text>
<rect class="lot" x="594" y="547" width="14" height="170"/>
<path class="ln" d="M594,552.3h14m-14,5.3h14m-14,5.3h14m-14,5.3h14m-14,5.3h14m-14,5.3h14m-14,5.3h14m-14,5.3h14m-14,5.3h14m-14,5.3h14m-14,5.3h14m-14,5.3h14m-14,5.3h14m-14,5.3h14m-14,5.3h14m-14,5.3h14m-14,5.3h14m-14,5.3h14m-14,5.3h14m-14,5.3h14m-14,5.3h14m-14,5.3h14m-14,5.3h14m-14,5.3h14m-14,5.3h14m-14,5.3h14m-14,5.3h14m-14,5.3h14m-14,5.3h14m-14,5.3h14m-14,5.3h14"/>
<text class="n"><tspan x="595.5" y="551.2">35/837</tspan><tspan x="595.5" y="556.5">35/836</tspan><tspan x="595.5" y="561.8">35/835</tspan><tspan x="595.5" y="567.1">35/834</tspan><tspan x="595.5" y="572.4">35/833</tspan><tspan x="595.5" y="577.7">35/832</tspan><tspan x="595.5" y="583">35/831</tspan><tspan x="595.5" y="588.3">35/830</tspan><tspan x="595.5" y="593.6">35/820</tspan><tspan x="595.5" y="598.9">35/819</tspan><tspan x="595.5" y="604.2">35/818</tspan><tspan x="595.5" y="609.5">35/817</tspan><tspan x="595.5" y="614.8">35/816</tspan><tspan x="595.5" y="620.1">35/815</tspan><tspan x="595.5" y="625.4">35/814</tspan><tspan x="595.5" y="630.7">35/813</tspan><tspan x="595.5" y="636">35/812</tspan><tspan x="595.5" y="641.3">35/811</tspan><tspan x="595.5" y="646.6">35/810</tspan><tspan x="595.5" y="651.9">35/809</tspan><tspan x="595.5" y="657.2">35/808</tspan><tspan x="595.5" y="662.5">35/807</tspan><tspan x="595.5" y="667.8">35/806</tspan><tspan x="595.5" y="673.1">35/805</tspan><tspan x="595.5" y="678.4">35/804</tspan><tspan x="595.5" y="683.7">35/803</tspan><tspan x="595.5" y="689">35/802</tspan><tspan x="595.5" y="694.3">35/801</tspan><tspan x="595.5" y="699.6">35/800</tspan><tspan x="595.5" y="704.9">35/799</tspan><tspan x="595.5" y="710.2">35/798</tspan><tspan x="595.5" y="715.5">35/797</tspan></text>

<!-- subject parcel -->
<rect x="592" y="587" width="22" height="6" fill="url(#hatch)" stroke="#222" stroke-width="0.6"/>
<use href="#cam" x="586" y="578"/>
<use href="#cam" x="587" y="590"/>
<use href="#cam" x="584" y="603"/>
<circle cx="604" cy="589" r="48" fill="none" stroke="#e41e24" stroke-width="2.8"/>

<!-- BOTTOM-LEFT -->
<text class="lb" x="344" y="528">หมู่บ้านไทรงามทรัพย์</text>
<use href="#hs" x="335" y="531"/>
<text class="lb" x="333" y="549">วัดไผ่ล้อมโพธาราม</text>
<use href="#tp" x="337" y="552"/>
<rect x="344" y="603" width="19" height="11" fill="#fff" stroke="#d83030" stroke-width="0.9"/>
<rect x="346" y="607" width="15" height="5" fill="#2a4c7a"/>
<rect x="373" y="609" width="19" height="12" fill="#2a8a78" stroke="#d83030" stroke-width="0.8"/>
<rect x="377" y="612" width="11" height="4" fill="#e8f6f2"/>
<text class="lb" x="279" y="601">หมู่บ้านพฤกษา 8</text>
<use href="#hs" x="287" y="604"/>
<text class="lb" x="271" y="624.5">ไป อยุธยา</text>
<rect x="268" y="620" width="3" height="4" fill="#fff" stroke="#777" stroke-width="0.4"/>
<use href="#hs" x="281" y="632"/>
<text class="lb" x="287" y="651">หมู่บ้าน</text>
<text class="lb" x="282" y="658">สินธิวรรณ</text>
<circle cx="323" cy="625" r="13" fill="none" stroke="#c04040" stroke-width="0.6"/>
<path d="M318,626 l3,3 l4,-4" stroke="#e0202a" stroke-width="0.7" fill="none"/>
<rect x="325.5" y="626" width="3" height="3" fill="#e0202a"/>
<text x="336" y="643" style="font-size:3.8px" class="red">แยกบางพูด</text>
<text transform="translate(344,631) rotate(6.5)" style="font-size:4.4px;font-weight:bold;fill:#222">ถนนโพธิ์ทอง (ทล.309)</text>
<text transform="translate(407,637.5) rotate(6.5)" style="font-size:4.4px;font-weight:bold;fill:#222">ไป อ.วังน้อย</text>
<rect x="442" y="637" width="3" height="4" fill="#fff" stroke="#777" stroke-width="0.4"/>
<use href="#hs" x="362" y="639"/>
<text class="lb" x="348" y="656">หมู่บ้านพฤกษาธานี</text>
<text class="lb" x="353" y="663">(ไทรงาม-อยุธยา)</text>
<text transform="translate(300,707) rotate(-69)" style="font-size:4.4px;font-weight:bold;fill:#222">ไป ถนนเชียงราก</text>
<rect x="293" y="708" width="3" height="4" fill="#fff" stroke="#777" stroke-width="0.4"/>

<!-- LEGEND -->
<rect x="533" y="23" width="155" height="51" fill="#fff" stroke="#222" stroke-width="1.3"/>
<rect x="541" y="31" width="12" height="6" fill="url(#hatch)" stroke="#222" stroke-width="0.5"/>
<text x="558" y="37" style="font-size:7.5px;font-weight:bold;fill:#222" textLength="125" lengthAdjust="spacingAndGlyphs">ทรัพย์สินที่ประเมิน โฉนดที่ดินเลขที่ 36940</text>
<text x="558" y="52" style="font-size:7.5px;font-weight:bold;fill:#222" textLength="126" lengthAdjust="spacingAndGlyphs">เนื้อที่ 16.0 ตารางวา พร้อมทาวน์เฮ้าส์ 2 ชั้น</text>
<text x="558" y="66" style="font-size:7.5px;font-weight:bold;fill:#222" textLength="124" lengthAdjust="spacingAndGlyphs">(หน้ากว้าง 4 เมตร) เลขที่ 55/820 หมู่ที่ 4</text>
<circle cx="580" cy="92" r="6" fill="#e86cc4" stroke="#333" stroke-width="0.7"/>
<text x="595" y="94.5" style="font-size:6px;font-weight:bold;fill:#222" textLength="50" lengthAdjust="spacingAndGlyphs">ข้อมูลตลาดเปรียบเทียบ</text>
<circle cx="581" cy="109" r="4" fill="#f3d320" stroke="#444" stroke-width="0.7"/>
<path d="M577,109 l-4,-3 M577,109 l-4,3" stroke="#444" stroke-width="0.7"/>
<text x="595" y="111.5" style="font-size:6px;font-weight:bold;fill:#222" textLength="25" lengthAdjust="spacingAndGlyphs">จุดถ่ายภาพ</text>

<!-- COMPASS -->
<g transform="translate(747,29)">
<circle r="5.5" fill="none" stroke="#aaa" stroke-width="1.5"/>
<polygon points="0,-10 1.6,-1.6 10,0 1.6,1.6 0,10 -1.6,1.6 -10,0 -1.6,-1.6" fill="#111"/>
<text x="0" y="-13" style="font-size:6.5px;fill:#222" text-anchor="middle">N</text>
<text x="0" y="20" style="font-size:6.5px;fill:#222" text-anchor="middle">S</text>
<text x="-17" y="2.5" style="font-size:6.5px;fill:#222" text-anchor="middle">W</text>
<text x="17" y="2.5" style="font-size:6.5px;fill:#222" text-anchor="middle">E</text>
</g>
</svg>
</body></html>
